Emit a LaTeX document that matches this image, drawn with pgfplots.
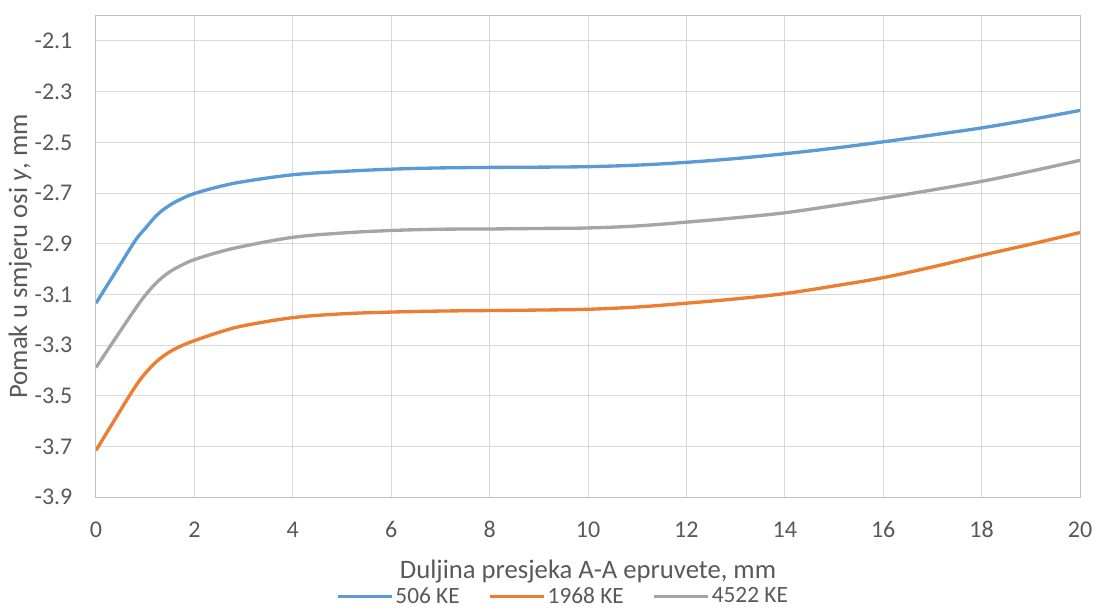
\documentclass[border=0pt]{standalone}
\usepackage{pgfplots}
\pgfplotsset{compat=1.18}
\usepackage{pgfplotstable}
\usepackage{fontspec}
\setmainfont{Carlito}

\definecolor{ke506}{HTML}{5B9BD5}
\definecolor{ke1968}{HTML}{ED7D31}
\definecolor{ke4522}{HTML}{A5A5A5}
\definecolor{gridc}{HTML}{D9D9D9}
\definecolor{framec}{HTML}{BFBFBF}
\definecolor{txt}{HTML}{595959}

\pgfplotstableread{
x y
0 -3.135
0.5 -2.980
0.8 -2.887
1 -2.840
1.25 -2.785
1.5 -2.748
1.75 -2.722
2 -2.702
2.5 -2.675
3 -2.655
4 -2.628
5 -2.615
6 -2.606
7 -2.601
8 -2.599
9 -2.598
10 -2.596
11 -2.590
12 -2.579
13 -2.564
14 -2.545
15 -2.523
16 -2.498
17 -2.471
18 -2.443
19 -2.410
20 -2.374
}\keA

\pgfplotstableread{
x y
0 -3.716
0.5 -3.557
0.8 -3.464
1 -3.412
1.25 -3.362
1.5 -3.327
1.75 -3.302
2 -3.283
2.5 -3.250
3 -3.224
4 -3.192
5 -3.177
6 -3.170
7 -3.166
8 -3.164
9 -3.162
10 -3.159
11 -3.150
12 -3.135
13 -3.118
14 -3.097
15 -3.067
16 -3.034
17 -2.992
18 -2.946
19 -2.902
20 -2.856
}\keB

\pgfplotstableread{
x y
0 -3.389
0.5 -3.243
0.8 -3.157
1 -3.104
1.25 -3.050
1.5 -3.011
1.75 -2.984
2 -2.963
2.5 -2.933
3 -2.910
4 -2.875
5 -2.858
6 -2.848
7 -2.843
8 -2.842
9 -2.840
10 -2.838
11 -2.830
12 -2.815
13 -2.798
14 -2.778
15 -2.750
16 -2.720
17 -2.688
18 -2.654
19 -2.614
20 -2.571
}\keC

\begin{document}
\begin{tikzpicture}
\path[use as bounding box] (-72pt,-82.5pt) rectangle (749.25pt,372.75pt);
\begin{axis}[
    at={(0,0)}, anchor=south west,
    scale only axis,
    width=738pt, height=361pt,
    xmin=0, xmax=20, ymin=-3.9, ymax=-2.0,
    xtick={0,2,...,20},
    ytick={-3.9,-3.7,-3.5,-3.3,-3.1,-2.9,-2.7,-2.5,-2.3,-2.1},
    major tick length=0pt,
    grid=major,
    grid style={gridc, line width=0.75pt},
    axis line style={framec, line width=0.75pt},
    /pgf/number format/assume math mode=true,
    y tick label style={/pgf/number format/fixed, /pgf/number format/fixed zerofill, /pgf/number format/precision=1,
        font=\fontsize{18}{20}\selectfont, color=txt, anchor=east, inner sep=0pt, xshift=-17.5pt},
    x tick label style={font=\fontsize{18}{20}\selectfont, color=txt, anchor=center, yshift=-24.4pt},
    xlabel={Duljina presjeka A-A epruvete, mm},
    ylabel={Pomak u smjeru osi \textit{y}, mm},
    xlabel style={font=\fontsize{20}{22}\selectfont, color=txt, at={(axis description cs:0.5,0)}, anchor=base, yshift=-60.75pt},
    ylabel style={font=\fontsize{20}{22}\selectfont, color=txt, at={(axis description cs:-0.0772,0.5)}, anchor=center},
    legend columns=3,
    legend style={draw=none, fill=none, at={(axis description cs:0.4746,0)}, anchor=center, yshift=-74.5pt,
        font=\fontsize{17.5}{19}\selectfont, text=txt,
        nodes={inner sep=1.5pt},
        /tikz/every even column/.append style={column sep=20pt}},
    legend image code/.code={\draw[#1] (0pt,0pt) -- (40.5pt,0pt);},
    every axis plot/.append style={line width=2.5pt, smooth, tension=0.6, no markers},
]
\addplot[ke506] table[x=x, y=y] {\keA};
\addplot[ke1968] table[x=x, y=y] {\keB};
\addplot[ke4522] table[x=x, y=y] {\keC};
\legend{506 KE, 1968 KE, 4522 KE}
\end{axis}
\end{tikzpicture}
\end{document}
